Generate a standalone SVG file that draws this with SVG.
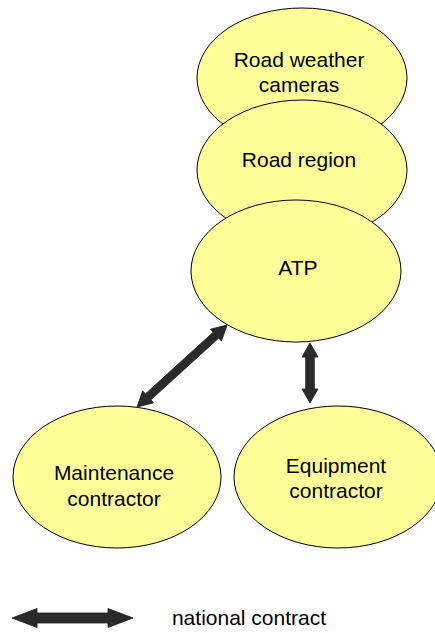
<svg xmlns="http://www.w3.org/2000/svg" width="435" height="633" viewBox="0 0 435 633">
  <style>
    .node ellipse { fill: #ffff99; stroke: #000; stroke-width: 1; }
    .node text, .legend text { font-family: "Liberation Sans", Arial, sans-serif; font-size: 21px; fill: #000; text-anchor: middle; }
    .arrow { fill: #2a2a2a; stroke: #1a1a1a; stroke-width: 0.8; stroke-linejoin: miter; }
  </style>
  <rect width="435" height="633" fill="#fff"/>

  <!-- stacked organisations, top to bottom -->
  <g id="node-cameras" class="node">
    <ellipse cx="302" cy="78" rx="105" ry="70"/>
    <text x="299" y="67">Road weather</text>
    <text x="299" y="92">cameras</text>
  </g>
  <g id="node-region" class="node">
    <ellipse cx="302" cy="170" rx="105" ry="70"/>
    <text x="299" y="167">Road region</text>
  </g>
  <g id="node-atp" class="node">
    <ellipse cx="296" cy="271" rx="105" ry="71"/>
    <text x="298" y="275">ATP</text>
  </g>
  <g id="node-maintenance" class="node">
    <ellipse cx="117" cy="477" rx="104" ry="71"/>
    <text x="114" y="480">Maintenance</text>
    <text x="114" y="506">contractor</text>
  </g>
  <g id="node-equipment" class="node">
    <ellipse cx="338" cy="477" rx="104" ry="71"/>
    <text x="336" y="473">Equipment</text>
    <text x="336" y="498">contractor</text>
  </g>

  <!-- national contract links (double-headed block arrows) -->
  <g id="connectors">
    <!-- ATP <-> Maintenance contractor -->
    <path class="arrow" transform="translate(137 407) rotate(-42.3)"
          d="M0 0 L15 -8 L15 -4 L106.8 -4 L106.8 -8 L121.8 0 L106.8 8 L106.8 4 L15 4 L15 8 Z"/>
    <!-- ATP <-> Equipment contractor -->
    <path class="arrow" transform="translate(310 343) rotate(90)"
          d="M0 0 L14 -8 L14 -4.3 L46 -4.3 L46 -8 L60 0 L46 8 L46 4.3 L14 4.3 L14 8 Z"/>
  </g>

  <!-- legend -->
  <g id="legend" class="legend">
    <path class="arrow" transform="translate(12 618)"
          d="M0 0 L25 -9.5 L25 -5 L96 -5 L96 -9.5 L121 0 L96 9.5 L96 5 L25 5 L25 9.5 Z"/>
    <text x="249" y="625">national contract</text>
  </g>
</svg>
